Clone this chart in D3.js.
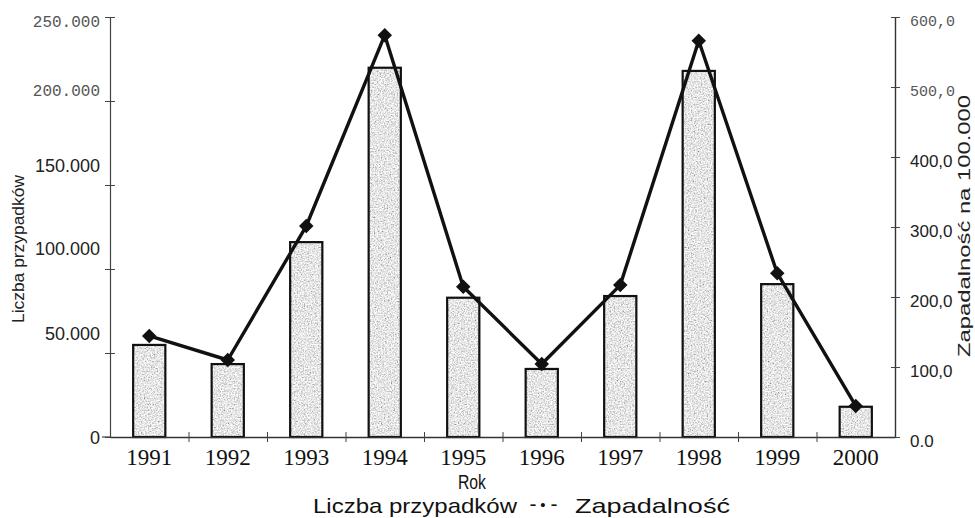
<!DOCTYPE html>
<html>
<head>
<meta charset="utf-8">
<script src="https://cdn.jsdelivr.net/npm/d3@7"></script>
<style>
  html, body { margin: 0; padding: 0; background: #fff; }
  svg { display: block; }
</style>
</head>
<body>
<svg id="chart" width="975" height="518"></svg>
<script>
// ---- data ----
const years = ["1991","1992","1993","1994","1995","1996","1997","1998","1999","2000"];
const cases = [54800, 43400, 116000, 219800, 82900, 40500, 83900, 217900, 91000, 18000];
const incidence = [144.3, 110.0, 301.4, 574.0, 214.7, 104.3, 217.0, 566.0, 234.0, 44.3];
const leftTicks = [0, 50000, 100000, 150000, 200000, 250000];
const leftTickLabels = ["0", "50.000", "100.000", "150.000", "200.000", "250.000"];
const rightTicks = [0, 100, 200, 300, 400, 500, 600];
const rightTickLabels = ["0.0", "100,0", "200,0", "300,0", "400,0", "500,0", "600,0"];
const legendLabels = ["Liczba przypadków", "Zapadalność"];
const xTitle = "Rok";
const leftTitle = "Liczba przypadków";
const rightTitle = "Zapadalność na 100.000";

// ---- layout ----
const L = 110, R = 895, T = 17, B = 437;
const leftLabelShift = [0, -20, -21, -20, -12, 3];   // vertical offsets of scanned labels
const monoLeft = new Set(["200.000", "250.000"]);
const monoRight = new Set(["500,0", "600,0"]);

const svg = d3.select("#chart");
const defs = svg.append("defs");
const f = defs.append("filter").attr("id", "speckle")
  .attr("x", 0).attr("y", 0).attr("width", 1).attr("height", 1);
f.append("feTurbulence").attr("type", "fractalNoise").attr("baseFrequency", 0.7)
  .attr("numOctaves", 2).attr("seed", 7).attr("result", "t");
f.append("feColorMatrix").attr("type", "matrix")
  .attr("values", "0.33 0.33 0.33 0 0  0.33 0.33 0.33 0 0  0.33 0.33 0.33 0 0  0 0 0 0 1")
  .attr("result", "g");
const ct = f.append("feComponentTransfer");
["feFuncR","feFuncG","feFuncB"].forEach(n =>
  ct.append(n).attr("type", "linear").attr("slope", 2.2).attr("intercept", -0.3));

const x = d3.scaleBand().domain(years).range([L, R]).paddingInner(0.59).paddingOuter(0.295);
const xb = d3.scaleLinear().domain([0, years.length]).range([L, R]);
const yL = d3.scaleLinear().domain([0, 250000]).range([B, T]);
const yR = d3.scaleLinear().domain([0, 600]).range([B, T]);

// bars
const bars = svg.append("g");
bars.selectAll("rect.fill").data(years).join("rect")
  .attr("class", "fill")
  .attr("x", d => x(d)).attr("width", x.bandwidth())
  .attr("y", (d, i) => yL(cases[i])).attr("height", (d, i) => B - yL(cases[i]))
  .attr("fill", "#bbb").attr("filter", "url(#speckle)");
bars.selectAll("rect.out").data(years).join("rect")
  .attr("class", "out")
  .attr("x", d => x(d)).attr("width", x.bandwidth())
  .attr("y", (d, i) => yL(cases[i])).attr("height", (d, i) => B - yL(cases[i]))
  .attr("fill", "none").attr("stroke", "#111").attr("stroke-width", 2.2);

// left axis
const gl = svg.append("g").attr("transform", `translate(${L},0)`)
  .call(d3.axisLeft(yL).tickValues(leftTicks).tickSizeInner(5).tickSizeOuter(0).tickPadding(5)
    .tickFormat((d, i) => leftTickLabels[i]));
gl.select(".domain").attr("stroke", "#444").attr("stroke-width", 1.2);
gl.selectAll(".tick line").attr("x1", 5).attr("stroke", "#444");
gl.selectAll(".tick text")
  .attr("dy", (d, i) => (leftLabelShift[i] + 6) + "px")
  .each(function(d, i) {
    const mono = monoLeft.has(leftTickLabels[i]);
    d3.select(this)
      .attr("font-family", mono ? "'Liberation Mono', monospace" : "'Liberation Sans', Arial, sans-serif")
      .attr("font-size", mono ? 16 : 18)
      .attr("fill", mono ? "#555" : "#222");
  });

// right axis
const gr = svg.append("g").attr("transform", `translate(${R},0)`)
  .call(d3.axisRight(yR).tickValues(rightTicks).tickSizeInner(5).tickSizeOuter(0).tickPadding(10)
    .tickFormat((d, i) => rightTickLabels[i]));
gr.select(".domain").attr("stroke", "#333").attr("stroke-width", 1.4);
gr.selectAll(".tick line").attr("x1", -4).attr("stroke", "#444");
gr.selectAll(".tick text")
  .attr("dy", "0.55em")
  .each(function(d, i) {
    const mono = monoRight.has(rightTickLabels[i]);
    d3.select(this)
      .attr("font-family", mono ? "'Liberation Mono', monospace" : "'Liberation Sans', Arial, sans-serif")
      .attr("font-size", mono ? 15 : 17)
      .attr("fill", mono ? "#555" : "#222");
  });

// x axis line with boundary ticks
const gx = svg.append("g").attr("transform", `translate(0,${B})`)
  .call(d3.axisBottom(xb).tickValues(d3.range(1, years.length)).tickSizeInner(5).tickSizeOuter(0)
    .tickFormat(""));
gx.select(".domain").attr("stroke", "#333").attr("stroke-width", 1.6);
gx.selectAll(".tick line").attr("y1", -5).attr("stroke", "#444");
svg.append("line").attr("x1", L - 8).attr("x2", L).attr("y1", B).attr("y2", B)
  .attr("stroke", "#444").attr("stroke-width", 1.2);

// year labels
const gy = svg.append("g").attr("transform", `translate(0,${B})`)
  .call(d3.axisBottom(x).tickSize(0).tickPadding(12));
gy.select(".domain").remove();
gy.selectAll(".tick text")
  .attr("font-family", "'Liberation Serif', 'Times New Roman', serif")
  .attr("font-size", 23).attr("fill", "#111");

// line + diamonds
const cx = d => x(d) + x.bandwidth() / 2;
const line = d3.line().x((d, i) => cx(years[i])).y(d => yR(d));
svg.append("path").datum(incidence).attr("d", line)
  .attr("fill", "none").attr("stroke", "#111").attr("stroke-width", 3.4)
  .attr("stroke-linejoin", "round");
svg.append("g").selectAll("path").data(incidence).join("path")
  .attr("d", d3.symbol(d3.symbolSquare, 105))
  .attr("transform", (d, i) => `translate(${cx(years[i])},${yR(d)}) rotate(45)`)
  .attr("fill", "#111");

// titles
const sans = "'Liberation Sans', Arial, sans-serif";
svg.append("text").attr("x", 472).attr("y", 489).attr("text-anchor", "middle")
  .attr("font-family", sans).attr("font-size", 21).attr("fill", "#111")
  .attr("textLength", 28).attr("lengthAdjust", "spacingAndGlyphs").text(xTitle);
svg.append("text").attr("transform", "translate(24,249) rotate(-90)").attr("text-anchor", "middle")
  .attr("font-family", sans).attr("font-size", 16).attr("fill", "#222")
  .attr("textLength", 148).attr("lengthAdjust", "spacingAndGlyphs").text(leftTitle);
svg.append("text").attr("transform", "translate(970,226) rotate(-90)").attr("text-anchor", "middle")
  .attr("font-family", sans).attr("font-size", 16).attr("fill", "#222")
  .attr("textLength", 262).attr("lengthAdjust", "spacingAndGlyphs").text(rightTitle);

// legend
const lg = svg.append("g").attr("font-family", sans).attr("font-size", 21).attr("fill", "#111");
lg.append("text").attr("x", 313).attr("y", 513)
  .attr("textLength", 204).attr("lengthAdjust", "spacingAndGlyphs").text(legendLabels[0]);
lg.append("text").attr("x", 533).attr("y", 511).attr("text-anchor", "middle").text("-");
lg.append("text").attr("x", 543).attr("y", 510).attr("text-anchor", "middle").attr("font-size", 15).text("•");
lg.append("text").attr("x", 554).attr("y", 511).attr("text-anchor", "middle").text("-");
lg.append("text").attr("x", 575).attr("y", 513)
  .attr("textLength", 155).attr("lengthAdjust", "spacingAndGlyphs").text(legendLabels[1]);
</script>
</body>
</html>
